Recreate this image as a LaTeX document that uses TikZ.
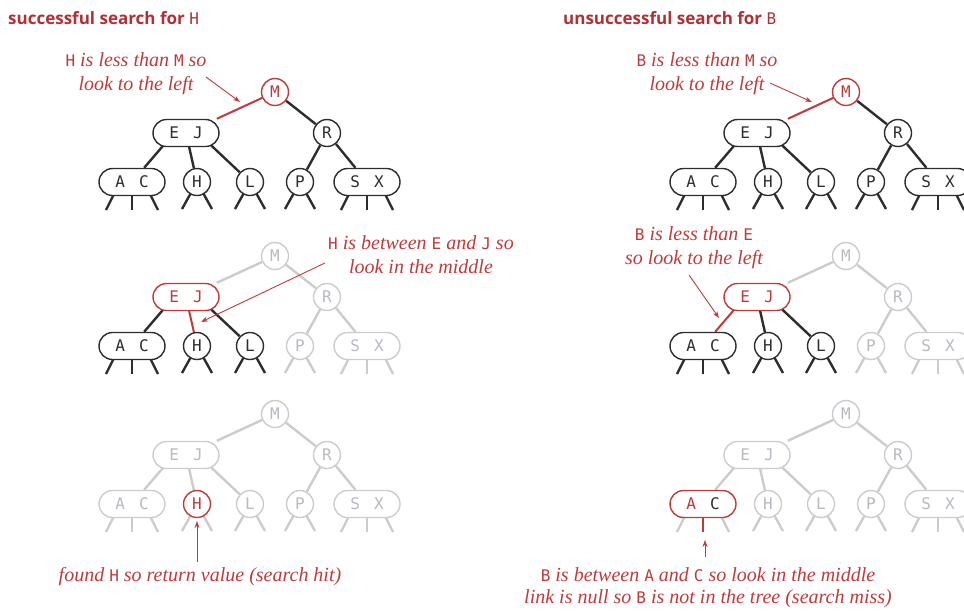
\documentclass[tikz,border=0pt]{standalone}
\usepackage{fontspec}
\newfontfamily\keyfont{DejaVu Sans Mono}
\newfontfamily\titlefont{Open Sans}
\newfontfamily\notefont{Liberation Serif}
\usetikzlibrary{backgrounds,arrows.meta}
\definecolor{rd}{RGB}{192,58,58}
\definecolor{trd}{RGB}{176,48,52}
\definecolor{dk}{RGB}{45,45,45}
\definecolor{lg}{RGB}{204,204,204}
\definecolor{lgt}{RGB}{182,186,194}
\newcommand\kg{\hspace{14pt}}
\newcommand\ACtext{A\kg C}
\newcommand\K[1]{{\upshape\keyfont\fontsize{16}{16}\selectfont #1}}
\tikzset{
  keynode/.style={fill=white, line width=1.4pt, inner sep=0pt, font=\keyfont\fontsize{16}{16}\selectfont},
  kcirc/.style={keynode, circle, minimum size=27pt},
  kbox/.style={keynode, rectangle, rounded corners=13.5pt, minimum width=66pt, minimum height=27pt},
  nblack/.style={draw=dk, text=dk},
  ngray/.style={draw=lg, text=lgt},
  nred/.style={draw=rd, text=rd},
  eblack/.style={draw=dk, line width=2.4pt},
  egray/.style={draw=lg, line width=2.4pt},
  ered/.style={draw=rd, line width=2pt},
  note/.style={text=rd, font=\notefont\itshape\fontsize{20}{24}\selectfont, align=center, inner sep=0pt},
  arr/.style={draw=rd, line width=0.9pt, -{Stealth[length=7pt,width=5pt]}},
  ttl/.style={text=trd, font=\titlefont\bfseries\fontsize{17}{18}\selectfont, anchor=west, inner sep=0pt},
  allblack/.style={cM/.style={nblack}, cEJ/.style={nblack}, cR/.style={nblack}, cAC/.style={nblack},
    cH/.style={nblack}, cL/.style={nblack}, cP/.style={nblack}, cSX/.style={nblack},
    eMEJ/.style={eblack}, eMR/.style={eblack}, eEJAC/.style={eblack}, eEJH/.style={eblack},
    eEJL/.style={eblack}, eRP/.style={eblack}, eRSX/.style={eblack},
    sAC/.style={eblack}, sACm/.style={eblack}, sH/.style={eblack}, sL/.style={eblack},
    sP/.style={eblack}, sSX/.style={eblack}},
  allgray/.style={cM/.style={ngray}, cEJ/.style={ngray}, cR/.style={ngray}, cAC/.style={ngray},
    cH/.style={ngray}, cL/.style={ngray}, cP/.style={ngray}, cSX/.style={ngray},
    eMEJ/.style={egray}, eMR/.style={egray}, eEJAC/.style={egray}, eEJH/.style={egray},
    eEJL/.style={egray}, eRP/.style={egray}, eRSX/.style={egray},
    sAC/.style={egray}, sACm/.style={egray}, sH/.style={egray}, sL/.style={egray},
    sP/.style={egray}, sSX/.style={egray}},
}
\newcommand\drawtree[3]{%
  \begin{scope}[shift={(#2,#3)}]
    \node[kcirc,cM] (#1M) at (0,0) {M};
    \node[kbox,cEJ] (#1EJ) at (-89,41) {E\kg J};
    \node[kcirc,cR] (#1R) at (52,41) {R};
    \node[kbox,cAC] (#1AC) at (-143,90) {\ACtext};
    \node[kcirc,cH] (#1H) at (-78,90) {H};
    \node[kcirc,cL] (#1L) at (-25,90) {L};
    \node[kcirc,cP] (#1P) at (25,90) {P};
    \node[kbox,cSX] (#1SX) at (92,90) {S\kg X};
    \begin{scope}[on background layer]
      \draw[eMEJ] (#1M) -- (#1EJ);
      \draw[eMR] (#1M) -- (#1R);
      \draw[eEJAC] ([xshift=-12pt]#1EJ.center) -- (#1AC);
      \draw[eEJH] (#1EJ.center) -- (#1H);
      \draw[eEJL] ([xshift=12pt]#1EJ.center) -- (#1L);
      \draw[eRP] (#1R) -- (#1P);
      \draw[eRSX] (#1R) -- (#1SX);
      \draw[sAC] ([xshift=-12pt]#1AC.center) -- ++(-14,28);
      \draw[sACm] (#1AC.center) -- ++(0,28);
      \draw[sAC] ([xshift=12pt]#1AC.center) -- ++(14,28);
      \draw[sH] (#1H.center) -- ++(-15,27);
      \draw[sH] (#1H.center) -- ++(15,27);
      \draw[sL] (#1L.center) -- ++(-15,27);
      \draw[sL] (#1L.center) -- ++(15,27);
      \draw[sP] (#1P.center) -- ++(-15,27);
      \draw[sP] (#1P.center) -- ++(15,27);
      \draw[sSX] ([xshift=-12pt]#1SX.center) -- ++(-14,28);
      \draw[sSX] (#1SX.center) -- ++(0,28);
      \draw[sSX] ([xshift=12pt]#1SX.center) -- ++(14,28);
    \end{scope}
  \end{scope}}
\begin{document}
\begin{tikzpicture}[x=1pt,y=-1pt]
\useasboundingbox (0,0) rectangle (964,611);
% titles
\node[ttl] (t1) at (8,18) {successful search for {\mdseries\keyfont\fontsize{16}{16}\selectfont H}};
\node[ttl] (t2) at (563,18) {unsuccessful search for {\mdseries\keyfont\fontsize{16}{16}\selectfont B}};
% left column
\tikzset{allblack, cM/.style={nred}, eMEJ/.style={ered}}
\drawtree{a}{275}{92}
\tikzset{allgray, cEJ/.style={nred}, eEJAC/.style={eblack}, eEJH/.style={ered}, eEJL/.style={eblack},
  cAC/.style={nblack}, cH/.style={nblack}, cL/.style={nblack},
  sAC/.style={eblack}, sACm/.style={eblack}, sH/.style={eblack}, sL/.style={eblack}}
\drawtree{b}{275}{256}
\tikzset{allgray, cH/.style={nred}}
\drawtree{c}{275}{414}
% right column
\tikzset{allblack, cM/.style={nred}, eMEJ/.style={ered}}
\drawtree{d}{846}{92}
\tikzset{allgray, cEJ/.style={nred}, eEJAC/.style={ered}, eEJH/.style={eblack}, eEJL/.style={eblack},
  cAC/.style={nblack}, cH/.style={nblack}, cL/.style={nblack},
  sAC/.style={eblack}, sACm/.style={eblack}, sH/.style={eblack}, sL/.style={eblack}}
\drawtree{e}{846}{256}
\renewcommand\ACtext{\textcolor{rd}{A}\kg C}
\tikzset{allgray, cAC/.style={draw=rd, text=dk}, sACm/.style={ered}}
\drawtree{f}{846}{414}
% notes and arrows
\node[note] (n1) at (136,74) {\K{H} is less than \K{M} so\\look to the left};
\coordinate (p1) at (240,102);
\draw[arr] ([xshift=70pt,yshift=-3pt]n1.center) -- (p1);
\node[note] (n2) at (421,255) {\K{H} is between \K{E} and \K{J} so\\look in the middle};
\coordinate (p2) at (201,322);
\draw[arr] ([xshift=-96pt,yshift=-8pt]n2.center) -- (p2);
\node[note] (n3) at (200,577) {found \K{H} so return value (search hit)};
\coordinate (p3) at (197,521);
\draw[arr] ([xshift=-3pt,yshift=15pt]n3.center) -- (p3);
\node[note] (n4) at (707,74) {\K{B} is less than \K{M} so\\look to the left};
\coordinate (p4) at (812,102);
\draw[arr] ([xshift=63pt,yshift=-9pt]n4.center) -- (p4);
\node[note] (n5) at (694,248) {\K{B} is less than \K{E}\\so look to the left};
\coordinate (p5) at (719,318);
\draw[arr] ([xshift=-5pt,yshift=-27pt]n5.center) -- (p5);
\node[note, font=\notefont\itshape\fontsize{20}{22}\selectfont] (n6) at (708,588) {\K{B} is between \K{A} and \K{C} so look in the middle\\link is null so \K{B} is not in the tree (search miss)};
\coordinate (p6) at (705,540);
\draw[arr] ([xshift=-3pt,yshift=31pt]n6.center) -- (p6);
\end{tikzpicture}
\end{document}
